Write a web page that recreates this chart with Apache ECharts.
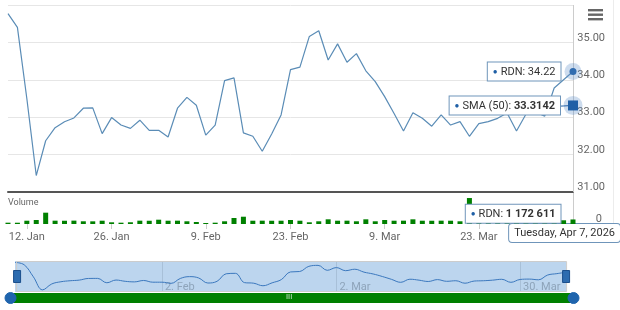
<!DOCTYPE html>
<html>
<head>
<meta charset="utf-8">
<script src="https://cdn.jsdelivr.net/npm/echarts@6/dist/echarts.min.js"></script>
<style>html,body{margin:0;padding:0;background:#fff}#c{width:620px;height:310px}</style>
</head>
<body>
<div id="c"></div>
<script>
const dates = [
 '2026-01-08','2026-01-09','2026-01-12','2026-01-13','2026-01-14','2026-01-15','2026-01-16','2026-01-20','2026-01-21','2026-01-22',
 '2026-01-23','2026-01-26','2026-01-27','2026-01-28','2026-01-29','2026-01-30','2026-02-02','2026-02-03','2026-02-04','2026-02-05',
 '2026-02-06','2026-02-09','2026-02-10','2026-02-11','2026-02-12','2026-02-13','2026-02-17','2026-02-18','2026-02-19','2026-02-20',
 '2026-02-23','2026-02-24','2026-02-25','2026-02-26','2026-02-27','2026-03-02','2026-03-03','2026-03-04','2026-03-05','2026-03-06',
 '2026-03-09','2026-03-10','2026-03-11','2026-03-12','2026-03-13','2026-03-16','2026-03-17','2026-03-18','2026-03-19','2026-03-20',
 '2026-03-23','2026-03-24','2026-03-25','2026-03-26','2026-03-27','2026-03-30','2026-03-31','2026-04-01','2026-04-02','2026-04-06',
 '2026-04-07'
];
const prices = [
 35.77, 35.40, 33.50, 31.44, 32.37, 32.72, 32.88, 32.98, 33.24, 33.25,
 32.56, 32.99, 32.79, 32.70, 32.92, 32.65, 32.65, 32.47, 33.24, 33.53,
 33.32, 32.52, 32.79, 33.98, 34.05, 32.58, 32.49, 32.09, 32.55, 33.06,
 34.27, 34.34, 35.16, 35.31, 34.53, 34.96, 34.47, 34.70, 34.24, 33.95,
 33.55, 33.10, 32.63, 33.12, 32.97, 32.76, 33.06, 32.79, 32.88, 32.49,
 32.83, 32.88, 32.97, 33.11, 32.63, 33.08, 33.14, 33.03, 33.78, 34.00,
 34.22
];
const sma50 = [
 null,null,null,null,null,null,null,null,null,null,
 null,null,null,null,null,null,null,null,null,null,
 null,null,null,null,null,null,null,null,null,null,
 null,null,null,null,null,null,null,null,null,null,
 null,null,null,null,null,null,null,null,null,33.22,
 33.23, 33.23, 33.24, 33.25, 33.25, 33.26, 33.27, 33.28, 33.29, 33.30,
 33.3142
];
const volumes = [
 340000, 330000, 850000, 1030000, 2920000, 860000, 840000, 870000, 700000, 690000,
 850000, 440000, 340000, 450000, 860000, 840000, 1110000, 850000, 860000, 700000,
 520000, 260000, 340000, 700000, 1550000, 1880000, 850000, 860000, 840000, 850000,
 1030000, 850000, 440000, 700000, 1210000, 850000, 860000, 700000, 1210000, 700000,
 1030000, 850000, 860000, 1210000, 850000, 840000, 860000, 850000, 700000, 6700000,
 900000, 950000, 880000, 1000000, 920000, 1050000, 980000, 900000, 1100000, 960000,
 1172611
];
const volumeTicks = ['12. Jan', '26. Jan', '9. Feb', '23. Feb', '9. Mar', '23. Mar'];
const navigatorTicks = ['2. Feb', '2. Mar', '30. Mar'];
const hoverLabel = 'Tuesday, Apr 7, 2026';
const seriesName = 'RDN';
const smaName = 'SMA (50)';

const MONTHS = ['Jan','Feb','Mar','Apr','May','Jun','Jul','Aug','Sep','Oct','Nov','Dec'];
const cats = dates.map(s => { const p = s.split('-'); return (+p[2]) + '. ' + MONTHS[+p[1] - 1]; });
const last = dates.length - 1;

const DARK = '#1f5fa6';
const LINE = '#5a8cb6';
const BORDER = '#6f95ba';
const GREEN = '#008000';
const FS = 11;

const boxStyle = {
  backgroundColor: '#fff', borderColor: BORDER, borderWidth: 1, padding: [4, 5, 3, 5],
  color: '#333', fontSize: FS, fontFamily: 'Roboto',
  rich: { d: { color: DARK, fontSize: 8, padding: [0, 3, 0, 0] }, b: { fontWeight: 'bold', fontSize: FS, color: '#333' } }
};

const priceItems = prices.map((v, i) => i === last ? {
  value: v,
  label: Object.assign({ show: true, position: 'left', distance: 9,
    formatter: p => '{d|●}' + seriesName + ': ' + p.value.toFixed(2) }, boxStyle)
} : v);

const smaItems = sma50.map((v, i) => i === last ? {
  value: v,
  label: Object.assign({ show: true, position: 'left', distance: 8,
    formatter: p => '{d|●}' + smaName + ': {b|' + p.value.toFixed(4) + '}' }, boxStyle)
} : v);

const fmtThousands = n => String(n).replace(/\B(?=(\d{3})+(?!\d))/g, ' ');
const volItems = volumes.map((v, i) => i === last ? {
  value: v,
  label: Object.assign({ show: true, position: 'left', distance: 10, offset: [0, -8],
    formatter: p => '{d|●}' + seriesName + ': {b|' + fmtThousands(p.value) + '}' }, boxStyle)
} : v);

const onlyLast = size => (val, params) => params.dataIndex === last ? size : 0;

const chart = echarts.init(document.getElementById('c'), null, { renderer: 'canvas' });
chart.setOption({
  animation: false,
  textStyle: { fontFamily: 'Roboto' },
  title: { text: 'Volume', left: 3, top: 193, textStyle: { fontSize: 9, fontWeight: 'normal', color: '#666' } },
  grid: [
    { left: 8, right: 47, top: 5, height: 187 },
    { left: 8, right: 47, top: 193, height: 31 },
    { left: 15, right: 54, top: 261, height: 31, show: true, backgroundColor: '#bcd5ee', borderWidth: 0 }
  ],
  xAxis: [
    { type: 'category', gridIndex: 0, data: cats, boundaryGap: false,
      axisLine: { show: true, lineStyle: { color: '#555', width: 2 } },
      axisTick: { show: false }, axisLabel: { show: false }, splitLine: { show: false },
      axisPointer: { show: true, type: 'line', value: last, status: 'show', snap: true, triggerTooltip: false, z: 1,
        lineStyle: { color: '#cccccc', width: 1, type: 'solid' }, label: { show: false } } },
    { type: 'category', gridIndex: 1, data: cats, boundaryGap: false,
      axisLine: { show: false },
      axisTick: { show: true, length: 5, interval: (i, v) => volumeTicks.includes(v), lineStyle: { color: '#ccc' } },
      axisLabel: { interval: (i, v) => volumeTicks.includes(v), color: '#666', fontSize: 11, margin: 8 },
      splitLine: { show: false },
      axisPointer: { show: true, type: 'line', value: last, status: 'show', snap: true, triggerTooltip: false, z: 1,
        lineStyle: { color: '#cccccc', width: 1, type: 'solid' },
        label: { show: true, formatter: () => hoverLabel, backgroundColor: '#fff', borderColor: BORDER, borderWidth: 1,
          color: '#333', fontSize: FS, padding: [4, 5, 3, 5], margin: 0, shadowBlur: 0 } } },
    { type: 'category', gridIndex: 2, data: cats, boundaryGap: false,
      axisLine: { show: false }, axisTick: { show: false },
      axisLabel: { inside: true, interval: (i, v) => navigatorTicks.includes(v), align: 'left', color: '#8ea4ba',
        fontSize: 11, margin: -1, padding: [0, 0, 0, 3] },
      splitLine: { show: true, interval: (i, v) => navigatorTicks.includes(v), lineStyle: { color: '#a8c0d8', width: 1 } } }
  ],
  yAxis: [
    { type: 'value', gridIndex: 0, position: 'right', min: 31, max: 36, interval: 1,
      axisLine: { show: false }, axisTick: { show: false },
      axisLabel: { formatter: v => v >= 36 ? '' : v.toFixed(2), align: 'right', margin: 32, color: '#666', fontSize: 11,
        verticalAlign: 'bottom', lineHeight: 9 },
      splitLine: { lineStyle: { color: '#e6e6e6' } } },
    { type: 'value', gridIndex: 1, position: 'right', min: 0, max: 8000000, interval: 8000000,
      axisLine: { show: false }, axisTick: { show: false },
      axisLabel: { formatter: v => v === 0 ? '0' : '', align: 'right', margin: 29, color: '#666', fontSize: 11,
        verticalAlign: 'bottom', lineHeight: 9 },
      splitLine: { show: false } },
    { type: 'value', gridIndex: 2, show: false, min: 31.1, max: 36.0 }
  ],
  dataZoom: [
    { type: 'slider', xAxisIndex: [0, 1], left: 15, right: 54, top: 261, height: 31, start: 0, end: 100,
      showDataShadow: false, showDetail: false, brushSelect: false, moveHandleSize: 0,
      backgroundColor: 'rgba(0,0,0,0)', fillerColor: 'rgba(0,0,0,0)', borderColor: '#cccccc', borderRadius: 0,
      handleIcon: 'path://M0,0 L7,0 L7,12 L0,12 Z', handleSize: 12,
      handleStyle: { color: '#2d6cb0', borderColor: '#1b4f8c', borderWidth: 1 } },
    { type: 'slider', xAxisIndex: [0, 1], left: 8, right: 47, top: 293, height: 10, start: 0, end: 100,
      showDataShadow: false, showDetail: false, brushSelect: false, moveHandleSize: 0,
      backgroundColor: GREEN, fillerColor: GREEN, borderColor: 'rgba(0,0,0,0)', borderRadius: 5,
      handleIcon: 'circle', handleSize: 11,
      handleStyle: { color: '#1f64ad', borderColor: '#1f64ad', borderWidth: 1 } }
  ],
  series: [
    { name: seriesName, type: 'line', xAxisIndex: 0, yAxisIndex: 0, data: priceItems, z: 3, clip: false,
      symbol: 'circle', symbolSize: onlyLast(7), showSymbol: true, showAllSymbol: true,
      lineStyle: { color: LINE, width: 1.2 }, itemStyle: { color: DARK }, emphasis: { disabled: true },
      markPoint: { symbol: 'circle', symbolSize: 17, silent: true, itemStyle: { color: 'rgba(90,140,200,0.3)' },
        label: { show: false }, data: [{ coord: [cats[last], prices[last]] }] } },
    { name: smaName, type: 'line', xAxisIndex: 0, yAxisIndex: 0, data: smaItems, z: 5, clip: false,
      symbol: 'rect', symbolSize: onlyLast(10), showSymbol: true, showAllSymbol: true,
      lineStyle: { color: DARK, width: 1 }, itemStyle: { color: DARK }, emphasis: { disabled: true },
      markPoint: { symbol: 'circle', symbolSize: 19, silent: true, itemStyle: { color: 'rgba(90,140,200,0.3)' },
        label: { show: false }, data: [{ coord: [cats[last], sma50[last]] }] } },
    { name: 'Volume', type: 'bar', xAxisIndex: 1, yAxisIndex: 1, data: volItems, barWidth: 5, clip: false,
      itemStyle: { color: GREEN }, emphasis: { disabled: true } },
    { name: 'Navigator', type: 'line', xAxisIndex: 2, yAxisIndex: 2, data: prices, symbol: 'none', smooth: 0.4,
      lineStyle: { color: '#3b78be', width: 1 }, emphasis: { disabled: true }, silent: true }
  ],
  graphic: [
    { type: 'rect', shape: { x: 588, y: 9, width: 15, height: 2.4 }, style: { fill: '#666' } },
    { type: 'rect', shape: { x: 588, y: 13.5, width: 15, height: 2.4 }, style: { fill: '#666' } },
    { type: 'rect', shape: { x: 588, y: 18, width: 15, height: 2.4 }, style: { fill: '#666' } },
    { type: 'line', shape: { x1: 613.5, y1: 0, x2: 613.5, y2: 243 }, style: { stroke: '#ececec', lineWidth: 1 } },
    { type: 'text', left: 286, top: 294, z: 100, style: { text: 'III', fill: '#cfe8cf', fontSize: 7, fontFamily: 'DejaVu Sans' } }
  ]
});
</script>
</body>
</html>
